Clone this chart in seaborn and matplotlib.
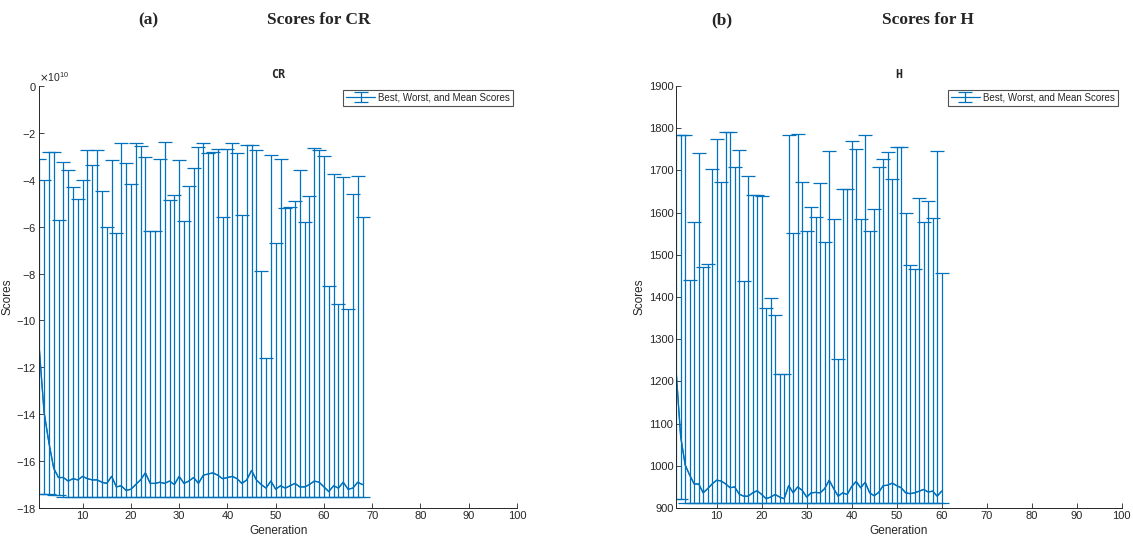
import matplotlib
matplotlib.use("Agg")
import matplotlib.pyplot as plt
from matplotlib.ticker import ScalarFormatter
import numpy as np
import pandas as pd
import seaborn as sns


# CR run: 68 generations, values in units of 1e10
cr_worst = [-3.1, -4.0, -2.8, -2.8, -5.7, -3.25, -3.6, -4.3, -4.8, -4.0,
            -2.75, -3.35, -2.75, -4.5, -6.0, -3.15, -6.25, -2.45, -3.3, -4.2,
            -2.45, -2.55, -3.05, -6.2, -6.2, -3.1, -2.4, -4.85, -4.65, -3.15,
            -5.75, -4.25, -3.5, -2.6, -2.45, -2.85, -2.8, -2.7, -5.6, -2.7,
            -2.45, -2.85, -5.5, -2.5, -2.5, -2.75, -7.9, -11.6, -2.95, -6.7,
            -3.1, -5.2, -5.15, -4.9, -3.6, -5.8, -4.7, -2.65, -2.75, -3.0,
            -8.55, -3.75, -9.3, -3.9, -9.5, -4.6, -3.85, -5.6]
cr_mean = [-11.15, -13.9, -15.2, -16.3, -16.7, -16.7, -16.85, -16.75, -16.8, -16.65,
           -16.75, -16.8, -16.8, -16.9, -16.95, -16.65, -17.1, -17.05, -17.25, -17.2,
           -17.0, -16.8, -16.5, -16.95, -16.95, -16.9, -16.95, -16.85, -17.0, -16.65,
           -16.95, -16.85, -16.7, -16.95, -16.6, -16.55, -16.5, -16.6, -16.75, -16.7,
           -16.65, -16.75, -16.95, -16.8, -16.4, -16.8, -17.0, -17.15, -16.85, -17.2,
           -17.05, -17.15, -17.05, -16.95, -17.1, -17.1, -17.0, -16.85, -16.9, -17.1,
           -17.3, -17.05, -17.15, -16.9, -17.2, -17.15, -16.9, -17.0]
cr_best = [-17.4, -17.4, -17.4, -17.45, -17.45] + [-17.52] * 63

# H run: 60 generations
h_worst = [1784, 1784, 1784, 1440, 1578, 1740, 1470, 1478, 1703, 1774,
           1672, 1792, 1792, 1709, 1748, 1438, 1687, 1642, 1641, 1640,
           1375, 1397, 1357, 1217, 1217, 1784, 1552, 1786, 1673, 1556,
           1614, 1590, 1671, 1531, 1746, 1584, 1254, 1655, 1655, 1770,
           1750, 1584, 1783, 1556, 1609, 1709, 1726, 1743, 1680, 1755,
           1755, 1600, 1475, 1466, 1634, 1578, 1627, 1587, 1746, 1456]
h_mean = [1223, 1069, 1002, 978, 957, 957, 936, 946, 957, 966,
          964, 957, 948, 950, 933, 928, 928, 936, 941, 932,
          922, 926, 932, 926, 922, 953, 936, 950, 942, 926,
          936, 937, 936, 946, 966, 946, 928, 936, 932, 951,
          963, 948, 961, 936, 929, 937, 953, 954, 959, 953,
          948, 936, 934, 936, 940, 944, 938, 940, 928, 940]
h_best = [922, 922] + [912.5] * 58

panels = [
    ("CR", cr_worst, cr_mean, cr_best, 1e10, (-18e10, 0), np.arange(-18, 1, 2) * 1e10),
    ("H", h_worst, h_mean, h_best, 1, (900, 1900), np.arange(900, 1901, 100)),
]


class FixedOrderFormatter(ScalarFormatter):
    # MATLAB style exponent: always x10^10
    def __init__(self, order):
        self._order = order
        super().__init__(useMathText=True)

    def _set_order_of_magnitude(self):
        self.orderOfMagnitude = self._order


sns.set_theme(style="white")
plt.rcParams["font.family"] = ["Liberation Sans", "DejaVu Sans"]
plt.rcParams["axes.unicode_minus"] = False

blue = "#0072BD"
grey = "#262626"

fig = plt.figure(figsize=(11.33, 5.51), dpi=100)
ax_cr = fig.add_axes([0.0346, 0.078, 0.4217, 0.766])
ax_h = fig.add_axes([0.5968, 0.078, 0.3932, 0.766])

for ax, (name, worst, mean, best, scale, ylim, yticks) in zip([ax_cr, ax_h], panels):
    df = pd.DataFrame({
        "Generation": np.arange(1, len(mean) + 1),
        "worst": np.array(worst) * scale,
        "mean": np.array(mean) * scale,
        "best": np.array(best) * scale,
    })
    ax.errorbar(df["Generation"], df["mean"],
                yerr=[df["mean"] - df["best"], df["worst"] - df["mean"]],
                fmt="-", color=blue, ecolor=blue, elinewidth=0.9, lw=0.9,
                capsize=5, capthick=0.9, label="Best, Worst, and Mean Scores")
    sns.lineplot(data=df, x="Generation", y="mean", ax=ax, color=blue,
                 lw=0.9, legend=False)

    ax.set_xlim(1, 100)
    ax.set_ylim(*ylim)
    ax.set_xticks(np.arange(10, 101, 10))
    ax.set_yticks(yticks)
    if scale != 1:
        ax.yaxis.set_major_formatter(FixedOrderFormatter(10))
        ax.yaxis.get_offset_text().set_fontsize(7.5)
        ax.yaxis.get_offset_text().set_color(grey)
    ax.tick_params(direction="in", length=3.5, width=0.6, labelsize=8,
                   colors=grey, left=True, bottom=True, pad=2)
    sns.despine(ax=ax)
    for sp in ["left", "bottom"]:
        ax.spines[sp].set_color(grey)
        ax.spines[sp].set_linewidth(0.7)
    ax.set_xlabel("Generation", fontsize=8.5, color=grey, labelpad=3)
    ax.set_ylabel("Scores", fontsize=8.5, color=grey, labelpad=2)
    ax.set_title(name, fontsize=8.5, fontweight="bold", pad=6,
                 family="DejaVu Sans Mono")
    leg = ax.legend(loc="upper right", fontsize=7, frameon=True, fancybox=False,
                    borderaxespad=0.4, handlelength=3, borderpad=0.3,
                    handletextpad=0.3)
    leg.get_frame().set_edgecolor(grey)
    leg.get_frame().set_linewidth(0.8)

hfont = dict(family="Liberation Serif", fontweight="bold", fontsize=12.5,
             ha="center", va="center")
fig.text(148 / 1133, 1 - 20 / 551, "(a)", **hfont)
fig.text(319 / 1133, 1 - 20 / 551, "Scores for CR", **hfont)
fig.text(722 / 1133, 1 - 20 / 551, "(b)", **hfont)
fig.text(928 / 1133, 1 - 20 / 551, "Scores for H", **hfont)

fig.savefig("out.png", dpi=100, facecolor="white")
